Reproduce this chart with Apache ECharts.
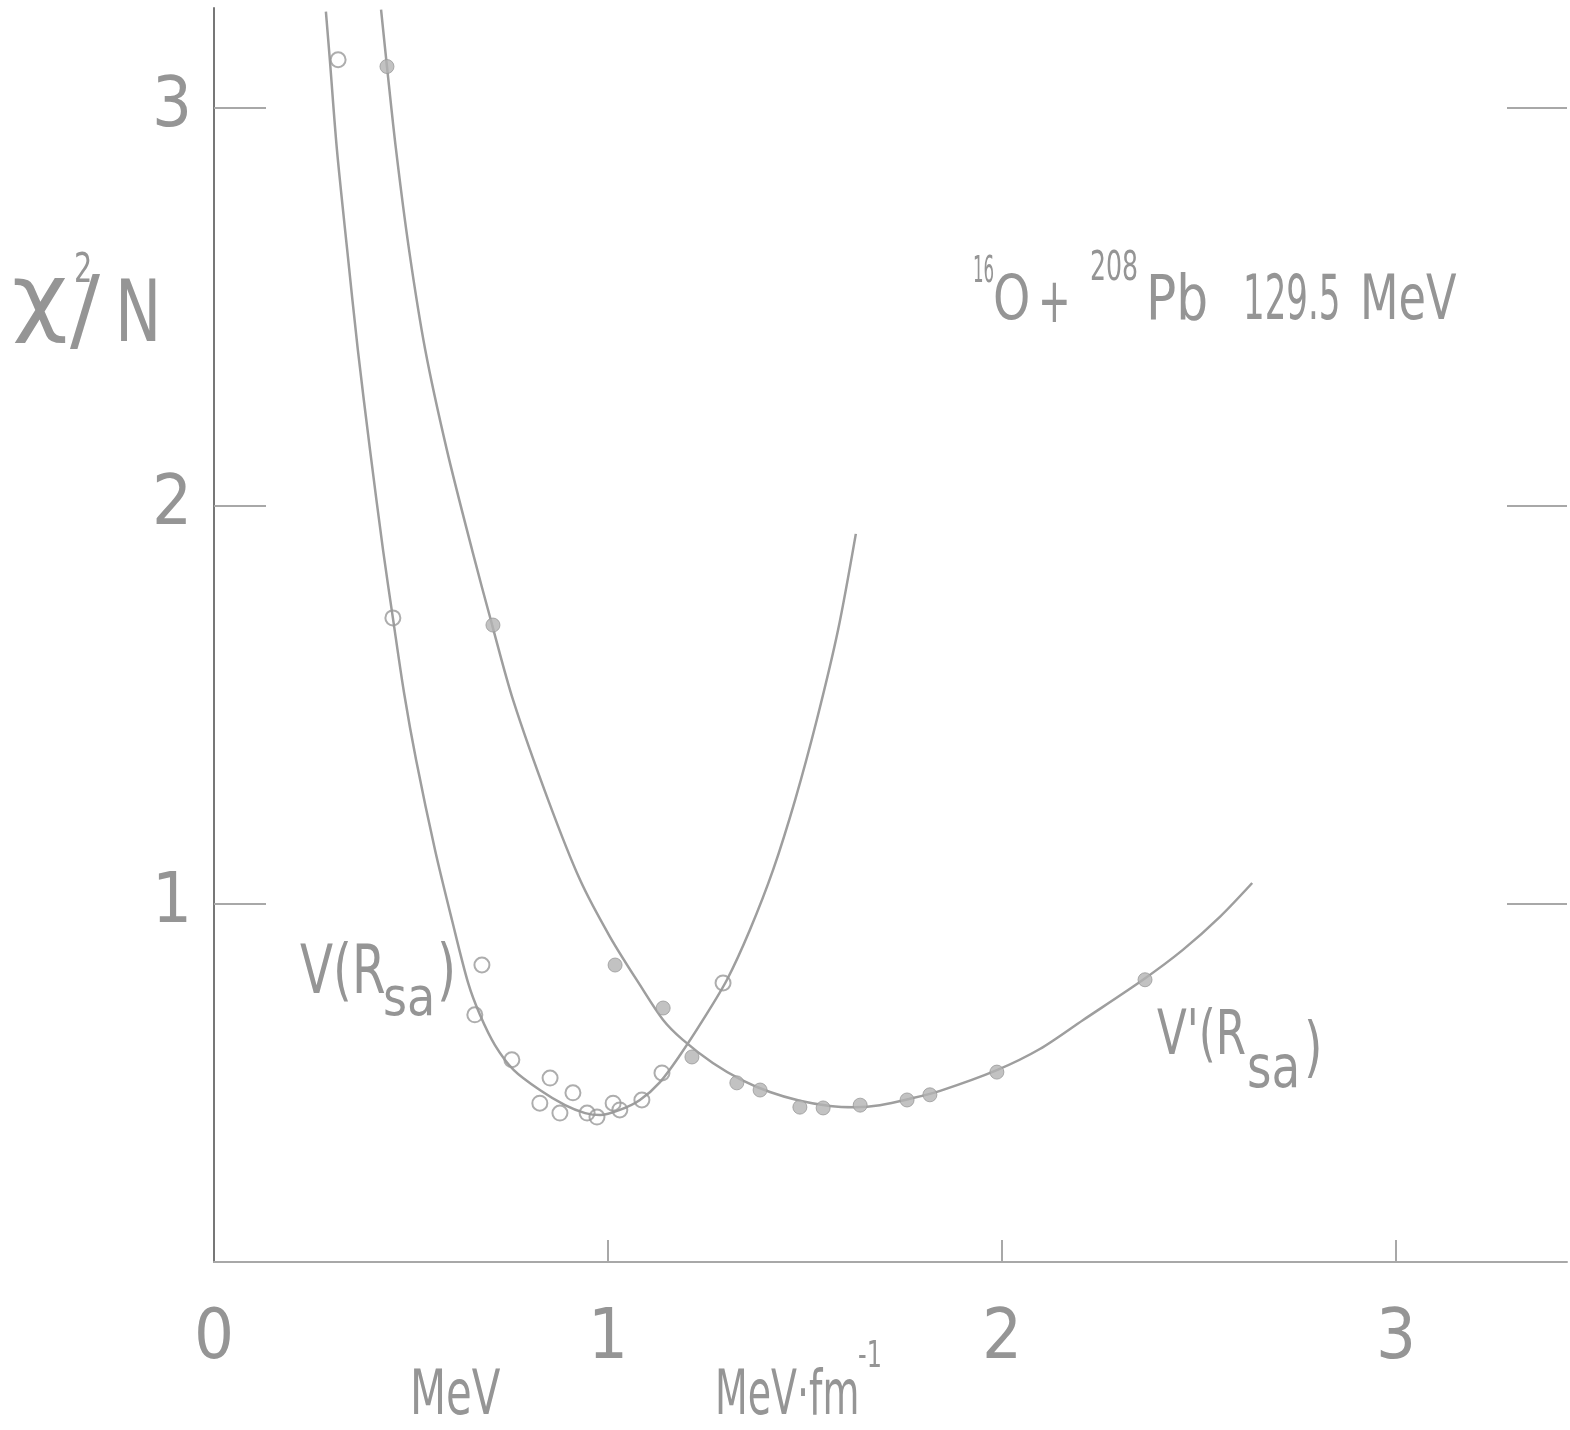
<!DOCTYPE html>
<html>
<head>
<meta charset="utf-8">
<script src="https://cdn.jsdelivr.net/npm/echarts@6/dist/echarts.min.js"></script>
<style>
html, body { margin: 0; padding: 0; background: #fff; }
#chart { width: 1570px; height: 1430px; }
</style>
</head>
<body>
<div id="chart"></div>
<script>
// 拟合曲线 V(Rsa) : [x, chi2/N]
var fitA = [
    [0.284, 3.241], [0.294, 3.120], [0.312, 2.894], [0.338, 2.643], [0.365, 2.392],
    [0.396, 2.140], [0.429, 1.889], [0.454, 1.718], [0.482, 1.532], [0.513, 1.361],
    [0.561, 1.135], [0.604, 0.959], [0.645, 0.801], [0.675, 0.721], [0.713, 0.645],
    [0.761, 0.582], [0.827, 0.532], [0.891, 0.494], [0.942, 0.474], [0.980, 0.469],
    [1.030, 0.482], [1.081, 0.507], [1.132, 0.552], [1.183, 0.620], [1.241, 0.708],
    [1.302, 0.809], [1.360, 0.934], [1.419, 1.085], [1.475, 1.261], [1.530, 1.462],
    [1.584, 1.688], [1.629, 1.929]
];
// 拟合曲线 V'(Rsa)
var fitB = [
    [0.424, 3.246], [0.439, 3.103], [0.462, 2.894], [0.495, 2.643], [0.536, 2.392],
    [0.591, 2.140], [0.655, 1.889], [0.706, 1.700], [0.759, 1.512], [0.848, 1.261],
    [0.929, 1.060], [1.005, 0.917], [1.081, 0.796], [1.140, 0.708], [1.190, 0.658],
    [1.266, 0.600], [1.340, 0.557], [1.411, 0.527], [1.487, 0.505], [1.563, 0.492],
    [1.627, 0.489], [1.690, 0.494], [1.766, 0.510], [1.843, 0.530], [1.987, 0.582],
    [2.096, 0.635], [2.206, 0.708], [2.358, 0.809], [2.459, 0.884], [2.553, 0.967],
    [2.635, 1.052]
];
// 数据点 V(Rsa) 空心圆
var pointsA = [
    [0.315, 3.120], [0.454, 1.718], [0.680, 0.846], [0.662, 0.721], [0.756, 0.608],
    [0.853, 0.562], [0.827, 0.499], [0.911, 0.525], [0.878, 0.474], [0.947, 0.474],
    [0.972, 0.464], [1.013, 0.499], [1.030, 0.482], [1.086, 0.507], [1.137, 0.575],
    [1.292, 0.801]
];
// 数据点 V'(Rsa) 实心点
var pointsB = [
    [0.439, 3.103], [0.708, 1.700], [1.018, 0.846], [1.140, 0.738], [1.213, 0.615],
    [1.327, 0.550], [1.386, 0.532], [1.487, 0.489], [1.546, 0.487], [1.640, 0.494],
    [1.759, 0.507], [1.817, 0.520], [1.987, 0.577], [2.363, 0.809]
];
var xTicks = [0, 1, 2, 3];
var yTicks = [1, 2, 3];

var FONT = "'DejaVu Sans Condensed', 'DejaVu Sans', sans-serif";
var INK = '#959595';
var LINE = '#9e9e9e';

function txt(s, x, y, size, sx) {
    return {
        type: 'text', x: x, y: y, scaleX: sx || 1, silent: true,
        style: { text: s, fill: INK, font: size + 'px ' + FONT, align: 'left', verticalAlign: 'middle' }
    };
}

var chart = echarts.init(document.getElementById('chart'), null, { renderer: 'canvas' });
var option = {
    animation: false,
    backgroundColor: '#fff',
    grid: { left: 214, right: 3, top: 8, bottom: 168, containLabel: false },
    xAxis: {
        type: 'value', min: 0, max: 3.434,
        splitLine: { show: false },
        axisLine: { lineStyle: { color: '#a8a8a8', width: 2 } },
        axisTick: { inside: true, length: 22, customValues: [1, 2, 3], lineStyle: { color: '#a8a8a8', width: 2 } },
        axisLabel: { customValues: xTicks, margin: 43, fontSize: 70, fontFamily: FONT, color: INK }
    },
    yAxis: [{
        type: 'value', min: 0.1, max: 3.25,
        splitLine: { show: false },
        axisLine: { lineStyle: { color: '#777', width: 2 } },
        axisTick: { inside: true, length: 52, customValues: yTicks, lineStyle: { color: '#a8a8a8', width: 2 } },
        axisLabel: { customValues: yTicks, margin: 22, fontSize: 70, fontFamily: FONT, color: INK, padding: [24, 0, 0, 0] }
    }, {
        type: 'value', min: 0.1, max: 3.25, position: 'right',
        splitLine: { show: false },
        axisLine: { show: false },
        axisTick: { show: true, inside: true, length: 60, customValues: yTicks, lineStyle: { color: '#a8a8a8', width: 2 } },
        axisLabel: { show: false }
    }],
    series: [{
        name: 'V(Rsa)', type: 'line', data: fitA, smooth: 0.3, showSymbol: false,
        lineStyle: { color: LINE, width: 2.5 }, z: 2
    }, {
        name: "V'(Rsa)", type: 'line', data: fitB, smooth: 0.3, showSymbol: false,
        lineStyle: { color: LINE, width: 2.5 }, z: 2
    }, {
        name: 'V(Rsa) data', type: 'scatter', data: pointsA, symbol: 'circle', symbolSize: 15,
        itemStyle: { color: 'rgba(0,0,0,0)', borderColor: '#999', borderWidth: 2 }, z: 3
    }, {
        name: "V'(Rsa) data", type: 'scatter', data: pointsB, symbol: 'circle', symbolSize: 14,
        itemStyle: { color: '#b3b3b3', borderColor: '#9a9a9a', borderWidth: 1 }, z: 3
    }],
    graphic: [
        // 纵轴名 χ²/N
        txt('χ', 12, 303, 86, 1.25), txt('2', 74, 272, 40, 0.8), txt('/', 70, 318, 90, 1.1), txt('N', 115, 319, 86, 0.8),
        // 反应标注
        txt('16', 973, 272, 37, 0.5), txt('O', 993, 303, 62, 0.85), txt('+', 1038, 306, 62, 0.7),
        txt('208', 1090, 270, 40, 0.7), txt('Pb', 1146, 303, 62, 0.9), txt('129.5', 1243, 303, 62, 0.61),
        txt('MeV', 1360, 303, 62, 0.8),
        // 曲线标注
        txt('V(R', 300, 975, 68, 0.79), txt('sa', 383, 1001, 54, 0.95), txt(')', 437, 975, 68, 0.8),
        txt("V'(R", 1157, 1038, 62, 0.78), txt('sa', 1247, 1072, 58, 0.9), txt(')', 1304, 1052, 66, 0.8),
        // 横轴单位
        txt('MeV', 410, 1398, 62, 0.75), txt('MeV·fm', 715, 1398, 62, 0.68), txt('-1', 858, 1357, 38, 0.7)
    ]
};
chart.setOption(option);
</script>
</body>
</html>
